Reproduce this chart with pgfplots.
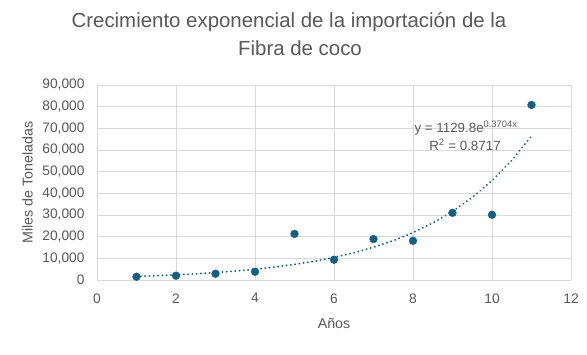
\documentclass[border=0pt]{standalone}
\usepackage{pgfplots}
\pgfplotsset{compat=1.18}
\usepackage{fontspec}
\setmainfont{Liberation Sans}
\definecolor{txt}{HTML}{595959}
\definecolor{grd}{HTML}{D9D9D9}
\definecolor{ptc}{HTML}{156082}
\begin{document}
\begin{tikzpicture}
\path[use as bounding box, fill=white] (0bp,0bp) rectangle (587bp,355bp);
\begin{axis}[
  at={(97bp,75bp)}, anchor=south west, scale only axis,
  width=474bp, height=195bp,
  xmin=0, xmax=12, ymin=0, ymax=90000,
  xtick={0,2,4,6,8,10,12},
  ytick={0,10000,20000,30000,40000,50000,60000,70000,80000,90000},
  scaled y ticks=false,
  grid=major, major grid style={draw=grd, line width=0.75bp},
  axis line style={draw=none},
  tick style={draw=none},
  clip=false,
  ticklabel style={font=\fontsize{13.8}{16}\selectfont, text=txt},
  yticklabel style={/pgf/number format/1000 sep={,}, /pgf/number format/assume math mode=true, xshift=-9bp},
  xticklabel style={/pgf/number format/assume math mode=true, yshift=-10bp},
]
\draw[draw=grd, line width=0.9bp] (axis cs:0,0) -- (axis cs:12,0);
\addplot[ptc, line width=2bp, line cap=round, dash pattern=on 0.1bp off 4.2bp, no marks] coordinates {
(1,1636.3) (1.5,1969.2) (2,2369.9) (2.5,2852.1) (3,3432.3) (3.5,4130.6) (4,4971.1) (4.5,5982.5)
(5,7199.7) (5.5,8664.6) (6,10427.4) (6.5,12549) (7,15102) (7.5,18175) (8,21872) (8.5,26323)
(9,31677) (9.5,38122) (10,45878) (10.5,55213) (11,66447)
};
\addplot[only marks, mark=*, mark size=3.9bp, mark options={fill=ptc, draw=ptc}] coordinates {
(1,1500) (2,2000) (3,2900) (4,3800) (5,21300) (6,9350) (7,18900) (8,18100) (9,31000) (10,30100) (11,80800)
};
\end{axis}
\node[text=txt, font=\fontsize{20.5}{24}\selectfont] at (289bp,333bp) {Crecimiento exponencial de la importación de la};
\node[text=txt, font=\fontsize{20.5}{24}\selectfont] at (300bp,307bp) {Fibra de coco};
\node[text=txt, font=\fontsize{14.3}{17}\selectfont] at (334bp,32bp) {Años};
\node[text=txt, font=\fontsize{14.3}{17}\selectfont, rotate=90] at (27.5bp,172.5bp) {Miles de Toneladas};
\node[text=txt, font=\fontsize{13.4}{16}\selectfont] at (466bp,227bp) {y = 1129.8e\textsuperscript{0.3704x}};
\node[text=txt, font=\fontsize{13.4}{16}\selectfont] at (465bp,210bp) {R\textsuperscript{2} = 0.8717};
\end{tikzpicture}
\end{document}
